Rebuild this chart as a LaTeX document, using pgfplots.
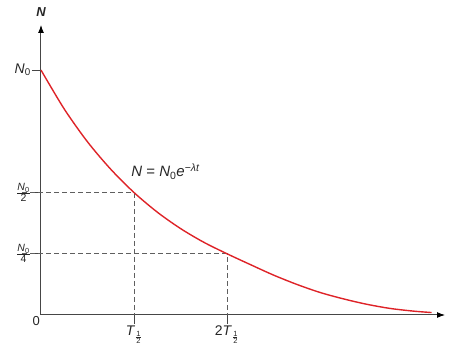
\documentclass[border=0pt]{standalone}
\usepackage{amsmath}
\usepackage{fontspec}
\setmainfont{Liberation Sans}
\usepackage{pgfplots}
\pgfplotsset{compat=1.18}
\usetikzlibrary{arrows.meta}
\definecolor{curvered}{RGB}{222,35,40}
\definecolor{axgray}{RGB}{70,70,70}
\definecolor{dashgray}{RGB}{95,95,95}
\newcommand{\fr}[2]{$\frac{\text{\fontsize{10.5}{12}\selectfont #1}}{\text{\fontsize{10.5}{12}\selectfont #2}}$}
\newcommand{\half}{\frac{\text{\fontsize{7.5}{8}\selectfont 1}}{\text{\fontsize{7.5}{8}\selectfont 2}}}
\begin{document}
\begin{tikzpicture}
\path[use as bounding box] (-41pt,-48pt) rectangle (408pt,315pt);
\begin{axis}[
  at={(0pt,0pt)}, anchor=origin,
  scale only axis, width=404pt, height=290pt,
  xmin=0, xmax=4.344, ymin=0, ymax=1.184,
  axis lines=left,
  axis line style={axgray, line width=1pt, -{Latex[length=8pt,width=6pt,black]}},
  clip=false,
  xtick={1,2},
  xticklabels={$\text{\textit{T}}_{\half}$, $\text{2\textit{T}}_{\half}$},
  ytick={0.25,0.5,1},
  yticklabels={\fr{\textit{N}\textsubscript{0}}{4}, \fr{\textit{N}\textsubscript{0}}{2}, \textit{N}\textsubscript{0}},
  tick align=outside,
  major tick length=9pt,
  tick style={axgray, line width=0.9pt},
  every tick label/.append style={font=\fontsize{14}{16}\selectfont, text=black!85},
  xticklabel style={inner sep=2pt},
  yticklabel style={inner sep=1pt},
]
\addplot[dashgray, line width=0.9pt, dash pattern=on 5pt off 3pt] coordinates {(-0.2,0.5) (1,0.5) (1,0)};
\addplot[dashgray, line width=0.9pt, dash pattern=on 5pt off 3pt] coordinates {(-0.2,0.25) (2,0.25) (2,0)};
\addplot[curvered, line width=1.4pt, smooth] coordinates {
(0,1.000) (0.25,0.841) (0.5,0.707) (0.75,0.595) (1,0.500) (1.25,0.420)
(1.5,0.353) (1.75,0.297) (2,0.250) (2.25,0.206) (2.5,0.163) (2.75,0.125)
(3,0.092) (3.25,0.066) (3.5,0.044) (3.75,0.027) (4,0.016) (4.2,0.010)};
\node[anchor=north east, font=\fontsize{13}{15}\selectfont, text=black!85, inner sep=1pt] at (axis cs:0,0) {0};
\node[anchor=south, font=\bfseries\itshape\fontsize{13}{15}\selectfont, text=black!85, yshift=5pt] at (rel axis cs:0,1) {N};
\node[font=\fontsize{15}{17}\selectfont, text=black!85] at (axis cs:1.34,0.585) {\textit{N} = \textit{N}\textsubscript{0}\textit{e}\textsuperscript{−\textit{λt}}};
\end{axis}
\end{tikzpicture}
\end{document}
